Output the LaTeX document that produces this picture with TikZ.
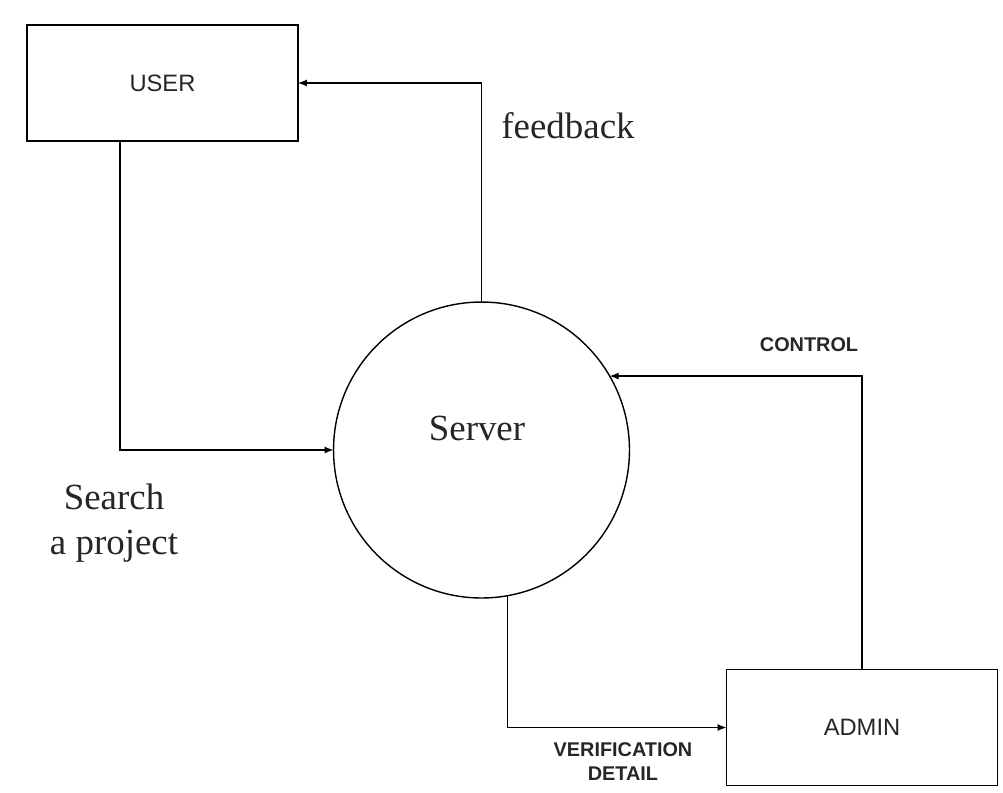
\documentclass[tikz,border=0pt]{standalone}
\usepackage{fontspec}
\setmainfont{Liberation Serif}
\setsansfont{Liberation Sans}
\usetikzlibrary{arrows.meta}

\tikzset{
  entity/.style={draw, line width=1pt, minimum width=5.42cm, minimum height=2.32cm,
    inner sep=0pt, outer sep=0pt, font=\sffamily\fontsize{13.5}{16}\selectfont, text=black!85},
  process/.style={draw, circle, line width=0.8pt, minimum size=5.92cm, inner sep=0pt,
    outer sep=0pt, font=\fontsize{21}{24}\selectfont},
  flow/.style={line width=0.7pt, -{Latex[length=1.8mm,width=1.4mm]}},
  serlabel/.style={font=\fontsize{21}{25.3}\selectfont, text=black!85, align=center},
  caplabel/.style={font=\sffamily\bfseries\fontsize{11.3}{13.7}\selectfont, text=black!85, align=center}
}

\begin{document}
\begin{tikzpicture}[x=0.02cm, y=-0.02cm]
    \useasboundingbox (0,0) rectangle (1003,792);

    \node[entity] (user) at (162.5,83) {USER};
    \node[process] (server) at (481.5,450) {};
    \node[entity] (admin) at (862,727.5) {ADMIN};

    \node[serlabel, anchor=base] (srv) at (477,440) {Server};
    \node[serlabel, anchor=base] (fb) at (568,138) {feedback};
    \node[serlabel] (srch) at (114,523) {Search\\a project};
    \node[caplabel, anchor=base] (ctl) at (809,351) {CONTROL};
    \node[caplabel] (ver) at (623,762) {VERIFICATION\\DETAIL};

    \draw[flow] ([xshift=-0.85cm]user.south) |- (server.west);
    \draw[flow] (server.north) |- (user.east);
    \draw[flow] (admin.north) |- (server.30);
    \draw[flow] (server.-80) |- (admin.west);
  \end{tikzpicture}
\end{document}
